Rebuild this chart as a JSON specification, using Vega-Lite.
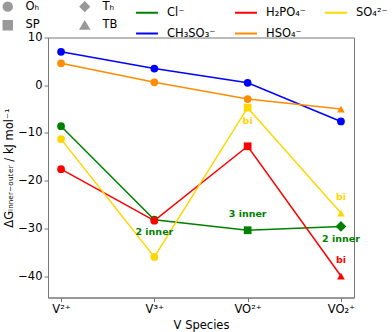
{
  "$schema": "https://vega.github.io/schema/vega-lite/v6.json",
  "width": 306,
  "height": 260,
  "autosize": {"type": "none"},
  "padding": {"left": 48, "top": 37.5, "right": 38, "bottom": 34.5},
  "config": {
    "font": "DejaVu Sans",
    "view": {"stroke": "#777", "strokeWidth": 1},
    "axis": {"grid": false, "domainColor": "#777", "tickColor": "#777", "labelFontSize": 11.5, "titleFontSize": 11.5, "labelColor": "#000", "titleColor": "#000", "titleFontWeight": "normal", "tickSize": 4},
    "legend": {"labelFontSize": 11.5, "labelColor": "#000"}
  },
  "datasets": {
    "pts": [
      {"species": "V2+", "anion": "CH₃SO₃⁻", "value": 7.0, "geom": "Oₕ"},
      {"species": "V3+", "anion": "CH₃SO₃⁻", "value": 3.5, "geom": "Oₕ"},
      {"species": "VO2+", "anion": "CH₃SO₃⁻", "value": 0.5, "geom": "Oₕ"},
      {"species": "VO2p", "anion": "CH₃SO₃⁻", "value": -7.6, "geom": "Oₕ"},
      {"species": "V2+", "anion": "HSO₄⁻", "value": 4.6, "geom": "Oₕ"},
      {"species": "V3+", "anion": "HSO₄⁻", "value": 0.6, "geom": "Oₕ"},
      {"species": "VO2+", "anion": "HSO₄⁻", "value": -2.9, "geom": "Oₕ"},
      {"species": "VO2p", "anion": "HSO₄⁻", "value": -5.0, "geom": "TB"},
      {"species": "V2+", "anion": "Cl⁻", "value": -8.6, "geom": "Oₕ"},
      {"species": "V3+", "anion": "Cl⁻", "value": -28.2, "geom": "Oₕ"},
      {"species": "VO2+", "anion": "Cl⁻", "value": -30.4, "geom": "SP"},
      {"species": "VO2p", "anion": "Cl⁻", "value": -29.6, "geom": "Tₕ"},
      {"species": "V2+", "anion": "H₂PO₄⁻", "value": -17.6, "geom": "Oₕ"},
      {"species": "V3+", "anion": "H₂PO₄⁻", "value": -28.4, "geom": "Oₕ"},
      {"species": "VO2+", "anion": "H₂PO₄⁻", "value": -12.8, "geom": "SP"},
      {"species": "VO2p", "anion": "H₂PO₄⁻", "value": -40.0, "geom": "TB"},
      {"species": "V2+", "anion": "SO₄²⁻", "value": -11.3, "geom": "Oₕ"},
      {"species": "V3+", "anion": "SO₄²⁻", "value": -36.0, "geom": "Oₕ"},
      {"species": "VO2+", "anion": "SO₄²⁻", "value": -4.7, "geom": "SP"},
      {"species": "VO2p", "anion": "SO₄²⁻", "value": -26.8, "geom": "TB"}
    ],
    "notes": [
      {"species": "V3+", "anion": "Cl⁻", "value": -30.8, "note": "2 inner"},
      {"species": "VO2+", "anion": "Cl⁻", "value": -27.0, "note": "3 inner"},
      {"species": "VO2p", "anion": "Cl⁻", "value": -32.3, "note": "2 inner"},
      {"species": "VO2p", "anion": "H₂PO₄⁻", "value": -36.7, "note": "bi"},
      {"species": "VO2p", "anion": "SO₄²⁻", "value": -23.5, "note": "bi"},
      {"species": "VO2+", "anion": "SO₄²⁻", "value": -7.5, "note": "bi"}
    ]
  },
  "encoding": {
    "x": {
      "field": "species", "type": "nominal",
      "scale": {"type": "point", "domain": ["V2+", "V3+", "VO2+", "VO2p"], "padding": 0.14},
      "axis": {"title": "V Species", "labelAngle": 0, "labelExpr": "{'V2+': 'V²⁺', 'V3+': 'V³⁺', 'VO2+': 'VO²⁺', 'VO2p': 'VO₂⁺'}[datum.value]", "titlePadding": 4, "labelPadding": 2}
    },
    "y": {
      "field": "value", "type": "quantitative",
      "scale": {"domain": [-44.5, 10], "nice": false, "zero": false},
      "axis": {"title": "ΔGᵢₙₙₑᵣ₋ₒᵤₜₑᵣ / kJ mol⁻¹", "values": [-40, -30, -20, -10, 0, 10], "titlePadding": 3, "labelPadding": 2}
    },
    "color": {
      "field": "anion", "type": "nominal",
      "scale": {"domain": ["Cl⁻", "H₂PO₄⁻", "SO₄²⁻", "CH₃SO₃⁻", "HSO₄⁻"], "range": ["#008000", "#ff0000", "#ffd700", "#0000ff", "#ff8c00"]},
      "legend": {"title": null, "orient": "none", "legendX": 87, "legendY": -37, "direction": "horizontal", "columns": 3, "symbolType": "stroke", "symbolStrokeWidth": 2, "symbolSize": 480, "columnPadding": 15, "rowPadding": 3, "labelOffset": 8}
    },
    "shape": {
      "field": "geom", "type": "nominal",
      "scale": {"domain": ["Oₕ", "Tₕ", "SP", "TB"], "range": ["circle", "diamond", "square", "triangle-up"]},
      "legend": {"title": null, "orient": "none", "legendX": -46, "legendY": -37, "direction": "horizontal", "columns": 2, "symbolFillColor": "#999", "symbolStrokeColor": "#999", "symbolSize": 80, "columnPadding": 37, "rowPadding": 3, "labelOffset": 12}
    }
  },
  "layer": [
    {
      "data": {"name": "pts"},
      "mark": {"type": "line", "strokeWidth": 1.5},
      "encoding": {"shape": null, "detail": {"field": "anion"}}
    },
    {
      "data": {"name": "pts"},
      "transform": [{"filter": "datum.geom !== 'Tₕ'"}],
      "mark": {"type": "point", "filled": true, "opacity": 1, "size": 60},
      "encoding": {}
    },
    {
      "data": {"name": "pts"},
      "transform": [{"filter": "datum.geom === 'Tₕ'"}],
      "mark": {"type": "point", "filled": true, "opacity": 1, "size": 115},
      "encoding": {}
    },
    {
      "data": {"name": "notes"},
      "mark": {"type": "text", "fontWeight": "bold", "fontSize": 9.5, "baseline": "middle", "align": "center"},
      "encoding": {"text": {"field": "note"}, "shape": null}
    }
  ]
}
